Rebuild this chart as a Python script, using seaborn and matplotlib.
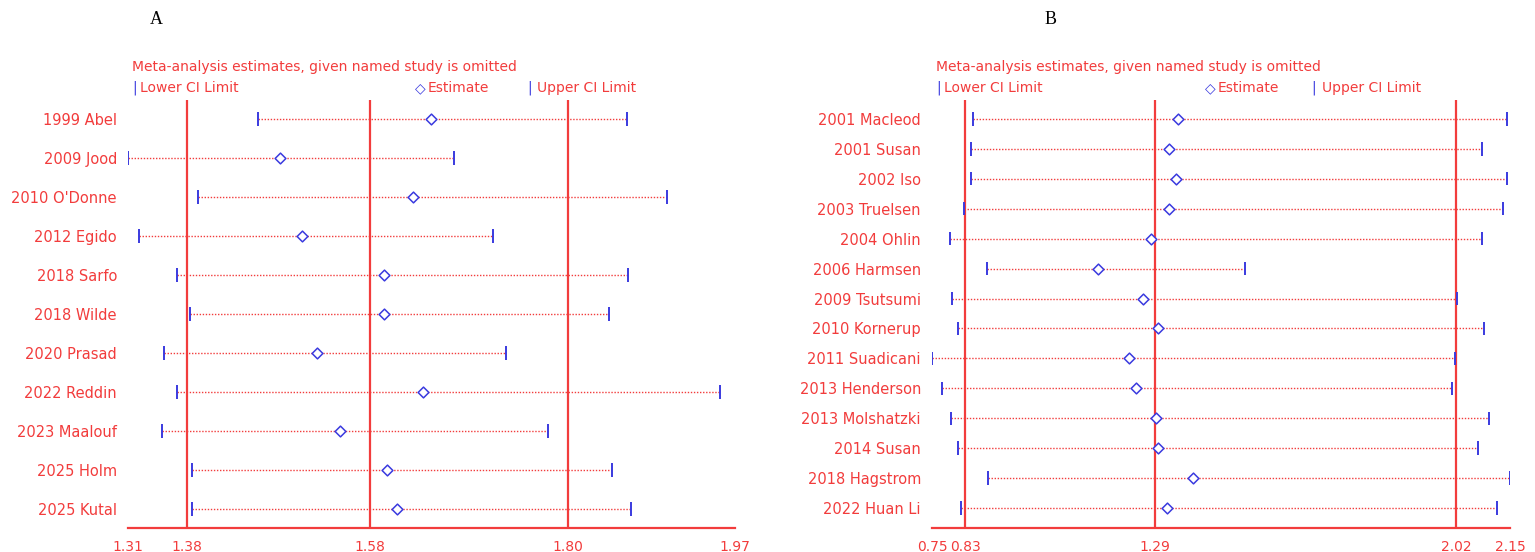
import matplotlib
matplotlib.use("Agg")
import matplotlib.pyplot as plt
import seaborn as sns
import pandas as pd

sns.set_theme(style="white")
plt.rcParams['font.family'] = ['DejaVu Sans']

RED = '#f23c3c'
BLUE = '#3a3adf'

studies_a = ["1999 Abel", "2009 Jood", "2010 O'Donne", "2012 Egido", "2018 Sarfo", "2018 Wilde",
             "2020 Prasad", "2022 Reddin", "2023 Maalouf", "2025 Holm", "2025 Kutal"]
lower_a = [1.451, 1.310, 1.386, 1.322, 1.363, 1.377, 1.349, 1.363, 1.347, 1.380, 1.380]
est_a = [1.639, 1.475, 1.620, 1.499, 1.588, 1.588, 1.515, 1.631, 1.540, 1.592, 1.602]
upper_a = [1.853, 1.665, 1.896, 1.707, 1.854, 1.833, 1.721, 1.954, 1.767, 1.836, 1.857]
vlines_a = [1.374, 1.573, 1.788]
ticks_a = [1.31, 1.374, 1.573, 1.788, 1.97]
ticklabels_a = ["1.31", "1.38", "1.58", "1.80", "1.97"]

studies_b = ["2001 Macleod", "2001 Susan", "2002 Iso", "2003 Truelsen", "2004 Ohlin", "2006 Harmsen",
             "2009 Tsutsumi", "2010 Kornerup", "2011 Suadicani", "2013 Henderson", "2013 Molshatzki",
             "2014 Susan", "2018 Hagstrom", "2022 Huan Li"]
lower_b = [0.849, 0.844, 0.844, 0.827, 0.794, 0.883, 0.798, 0.813, 0.750, 0.774, 0.796, 0.813, 0.886, 0.820]
est_b = [1.346, 1.324, 1.341, 1.324, 1.280, 1.152, 1.261, 1.298, 1.226, 1.243, 1.293, 1.298, 1.381, 1.319]
upper_b = [2.143, 2.083, 2.143, 2.133, 2.083, 1.508, 2.022, 2.088, 2.017, 2.010, 2.098, 2.073, 2.150, 2.119]
vlines_b = [0.83, 1.29, 2.02]
ticks_b = [0.75, 0.83, 1.29, 2.02, 2.15]
ticklabels_b = ["0.75", "0.83", "1.29", "2.02", "2.15"]

W, H = 1535, 552
fig = plt.figure(figsize=(W/100, H/100), dpi=100)


def panel(x0, x1, spacing, studies, lo, es, up, vl, ticks, tlabels, xlim, letter, letter_x):
    n = len(studies)
    top_px, bot_px, first = 100, 528, 119
    ax = fig.add_axes([x0/W, 1-bot_px/H, (x1-x0)/W, (bot_px-top_px)/H])
    ylo = -(first-top_px)/spacing
    yhi = (bot_px-first)/spacing
    df = pd.DataFrame({"study": studies, "lo": lo, "est": es, "up": up, "pos": range(n)})
    for v in vl:
        ax.axvline(v, color=RED, lw=1.6, zorder=1)
    ax.hlines(df["pos"], df["lo"], df["up"], colors=RED, linestyles=(0, (1, 1.2)), lw=1.0, zorder=2)
    ax.vlines(df["lo"], df["pos"]-0.17*39/spacing, df["pos"]+0.17*39/spacing, colors=BLUE, lw=1.4, zorder=3)
    ax.vlines(df["up"], df["pos"]-0.17*39/spacing, df["pos"]+0.17*39/spacing, colors=BLUE, lw=1.4, zorder=3)
    sns.scatterplot(data=df, x="est", y="pos", marker="D", s=30, facecolor="white",
                    edgecolor=BLUE, linewidth=1.1, ax=ax, zorder=4, legend=False)
    ax.set_xlim(*xlim)
    ax.set_ylim(yhi, ylo)
    ax.set_yticks(range(n))
    ax.set_yticklabels(studies, color=RED, fontsize=10.5)
    ax.tick_params(axis='y', length=0, pad=8)
    ax.set_xticks(ticks)
    ax.set_xticklabels(tlabels, color=RED, fontsize=10)
    ax.tick_params(axis='x', colors=RED, length=5, width=1.2, labelcolor=RED)
    ax.set_xlabel("")
    ax.set_ylabel("")
    for s in ["top", "left", "right"]:
        ax.spines[s].set_visible(False)
    ax.spines["bottom"].set_color(RED)
    ax.spines["bottom"].set_linewidth(1.6)
    ax.set_facecolor("none")
    fig.text((x0+4)/W, 1-67/H, "Meta-analysis estimates, given named study is omitted",
             color=RED, fontsize=10, va="center")
    fig.text((x0+4)/W, 1-88/H, "|", color=BLUE, fontsize=10, va="center")
    fig.text((x0+12)/W, 1-88/H, "Lower CI Limit", color=RED, fontsize=10, va="center")
    mid = x0 + (x1-x0)*0.49
    fig.text(mid/W, 1-88/H, "◇", color=BLUE, fontsize=10, va="center", ha="right")
    fig.text((mid+2)/W, 1-88/H, "Estimate", color=RED, fontsize=10, va="center")
    ux = x0 + (x1-x0)*0.657
    fig.text(ux/W, 1-88/H, "|", color=BLUE, fontsize=10, va="center")
    fig.text((ux+10)/W, 1-88/H, "Upper CI Limit", color=RED, fontsize=10, va="center")
    fig.text(letter_x/W, 1-20/H, letter, color="black", fontsize=13, family="Liberation Serif", va="center")
    return ax


panel(128, 735, 39.0, studies_a, lower_a, est_a, upper_a, vlines_a, ticks_a, ticklabels_a,
      (1.31, 1.97), "A", 150)
panel(932, 1510, 29.92, studies_b, lower_b, est_b, upper_b, vlines_b, ticks_b, ticklabels_b,
      (0.75, 2.15), "B", 1045)

fig.savefig("out.png", dpi=100)
